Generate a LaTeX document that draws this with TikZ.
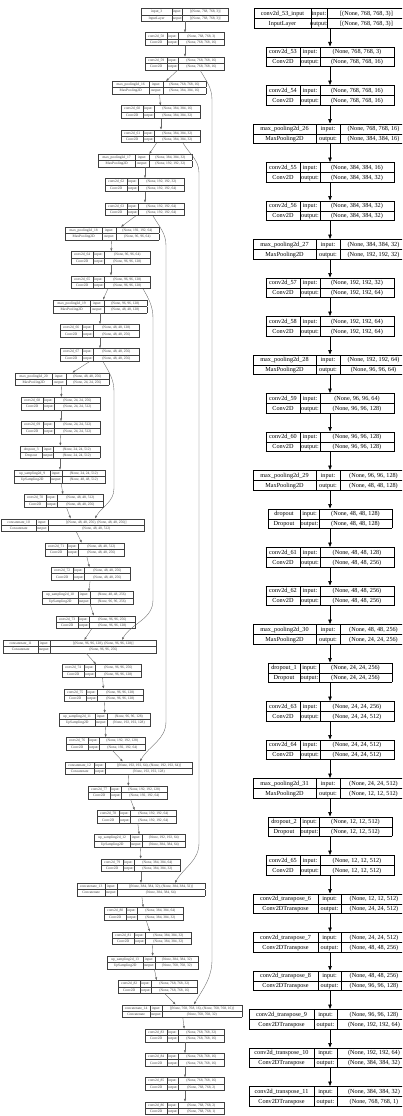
\documentclass[tikz,border=0pt]{standalone}
\usepackage{fontspec}
\setmainfont{Liberation Serif}
\usepackage{array}
\usetikzlibrary{arrows.meta}
\setlength{\tabcolsep}{0pt}

% column widths of each kind of box (name | input: | shape)
\def\kdrin{{56}{16}{78}}
\def\kdrconv{{34}{19}{74}}
\def\kdrpool{{62}{24}{66}}
\def\kdrdrop{{31}{19}{72}}
\def\kdrtr{{64}{23}{65}}
\def\kdrtrw{{64}{23}{73}}
\def\kdlin{{30}{10}{46}}
\def\kdlconv{{21}{11}{46}}
\def\kdlpool{{37}{13}{43}}
\def\kdldrop{{22}{11}{46}}
\def\kdlup{{35}{12}{43}}
\def\kdlcata{{34}{12}{96}}
\def\kdlcatb{{34}{12}{106}}
\def\kdlcatc{{28}{11}{87}}
\def\kdlcatd{{28}{11}{88}}
\def\kdlcate{{28}{11}{80}}

\newcommand{\tbl}[7]{%
  \begin{tabular}{|w{c}{#1pt}|w{c}{#2pt}|w{c}{#3pt}|}\hline
    #4 & input: & #6\\\hline
    #5 & output: & #7\\\hline
  \end{tabular}}
\newcommand{\lyr}[5]{\expandafter\expandafter\expandafter\tbl\csname kd#1\endcsname{#2}{#3}{#4}{#5}}

\tikzset{
  rlayer/.style={anchor=north, inner sep=0pt,
    font=\fontsize{6.2}{9.3}\selectfont\setlength{\arrayrulewidth}{0.5pt}},
  llayer/.style={anchor=north, inner sep=0pt, text=black!75,
    font=\fontsize{3.6}{6}\selectfont\setlength{\arrayrulewidth}{0.35pt}},
  redge/.style={line width=0.7pt, -{Triangle[length=4.5pt,width=3.5pt]}},
  ledge/.style={draw=black!60, line width=0.35pt, -{Triangle[length=2.6pt,width=2pt]}},
  skip/.style={ledge}
}

\begin{document}
\begin{tikzpicture}[x=1pt, y=-1pt]
    \fill[white] (0,0) rectangle (402,1116);
    \useasboundingbox (0,0) rectangle (402,1116);
    \clip (0,0) rectangle (402,1116);

    % Right model
    \foreach \kd/\nm/\ty/\ii/\oo [count=\i] in {
        rin/conv2d\_53\_input/InputLayer/{[(None, 768, 768, 3)]}/{[(None, 768, 768, 3)]},
        rconv/conv2d\_53/Conv2D/{(None, 768, 768, 3)}/{(None, 768, 768, 16)},
        rconv/conv2d\_54/Conv2D/{(None, 768, 768, 16)}/{(None, 768, 768, 16)},
        rpool/max\_pooling2d\_26/MaxPooling2D/{(None, 768, 768, 16)}/{(None, 384, 384, 16)},
        rconv/conv2d\_55/Conv2D/{(None, 384, 384, 16)}/{(None, 384, 384, 32)},
        rconv/conv2d\_56/Conv2D/{(None, 384, 384, 32)}/{(None, 384, 384, 32)},
        rpool/max\_pooling2d\_27/MaxPooling2D/{(None, 384, 384, 32)}/{(None, 192, 192, 32)},
        rconv/conv2d\_57/Conv2D/{(None, 192, 192, 32)}/{(None, 192, 192, 64)},
        rconv/conv2d\_58/Conv2D/{(None, 192, 192, 64)}/{(None, 192, 192, 64)},
        rpool/max\_pooling2d\_28/MaxPooling2D/{(None, 192, 192, 64)}/{(None, 96, 96, 64)},
        rconv/conv2d\_59/Conv2D/{(None, 96, 96, 64)}/{(None, 96, 96, 128)},
        rconv/conv2d\_60/Conv2D/{(None, 96, 96, 128)}/{(None, 96, 96, 128)},
        rpool/max\_pooling2d\_29/MaxPooling2D/{(None, 96, 96, 128)}/{(None, 48, 48, 128)},
        rdrop/dropout/Dropout/{(None, 48, 48, 128)}/{(None, 48, 48, 128)},
        rconv/conv2d\_61/Conv2D/{(None, 48, 48, 128)}/{(None, 48, 48, 256)},
        rconv/conv2d\_62/Conv2D/{(None, 48, 48, 256)}/{(None, 48, 48, 256)},
        rpool/max\_pooling2d\_30/MaxPooling2D/{(None, 48, 48, 256)}/{(None, 24, 24, 256)},
        rdrop/dropout\_1/Dropout/{(None, 24, 24, 256)}/{(None, 24, 24, 256)},
        rconv/conv2d\_63/Conv2D/{(None, 24, 24, 256)}/{(None, 24, 24, 512)},
        rconv/conv2d\_64/Conv2D/{(None, 24, 24, 512)}/{(None, 24, 24, 512)},
        rpool/max\_pooling2d\_31/MaxPooling2D/{(None, 24, 24, 512)}/{(None, 12, 12, 512)},
        rdrop/dropout\_2/Dropout/{(None, 12, 12, 512)}/{(None, 12, 12, 512)},
        rconv/conv2d\_65/Conv2D/{(None, 12, 12, 512)}/{(None, 12, 12, 512)},
        rtr/conv2d\_transpose\_6/Conv2DTranspose/{(None, 12, 12, 512)}/{(None, 24, 24, 512)},
        rtr/conv2d\_transpose\_7/Conv2DTranspose/{(None, 24, 24, 512)}/{(None, 48, 48, 256)},
        rtr/conv2d\_transpose\_8/Conv2DTranspose/{(None, 48, 48, 256)}/{(None, 96, 96, 128)},
        rtrw/conv2d\_transpose\_9/Conv2DTranspose/{(None, 96, 96, 128)}/{(None, 192, 192, 64)},
        rtrw/conv2d\_transpose\_10/Conv2DTranspose/{(None, 192, 192, 64)}/{(None, 384, 384, 32)},
        rtrw/conv2d\_transpose\_11/Conv2DTranspose/{(None, 384, 384, 32)}/{(None, 768, 768, 1)}
    } {
        \node[rlayer] (r\i) at (330, {8 + (\i-1)*38.5}) {\lyr{\kd}{\nm}{\ty}{\ii}{\oo}};
    }
    \foreach \i [evaluate=\i as \j using int(\i+1)] in {1,...,28} {
        \draw[redge] (r\i) -- (r\j);
    }

    % Left model (U-Net)
    \foreach \kd/\cx/\nm/\ty/\ii/\oo [count=\i from 0] in {
        lin/185/input\_3/InputLayer/{[(None, 768, 768, 3)]}/{[(None, 768, 768, 3)]},
        lconv/185/conv2d\_58/Conv2D/{(None, 768, 768, 3)}/{(None, 768, 768, 16)},
        lconv/185/conv2d\_59/Conv2D/{(None, 768, 768, 16)}/{(None, 768, 768, 16)},
        lpool/159/max\_pooling2d\_16/MaxPooling2D/{(None, 768, 768, 16)}/{(None, 384, 384, 16)},
        lconv/161/conv2d\_60/Conv2D/{(None, 384, 384, 16)}/{(None, 384, 384, 32)},
        lconv/161/conv2d\_61/Conv2D/{(None, 384, 384, 32)}/{(None, 384, 384, 32)},
        lpool/145/max\_pooling2d\_17/MaxPooling2D/{(None, 384, 384, 32)}/{(None, 192, 192, 32)},
        lconv/145/conv2d\_62/Conv2D/{(None, 192, 192, 32)}/{(None, 192, 192, 64)},
        lconv/145/conv2d\_63/Conv2D/{(None, 192, 192, 64)}/{(None, 192, 192, 64)},
        lpool/112/max\_pooling2d\_18/MaxPooling2D/{(None, 192, 192, 64)}/{(None, 96, 96, 64)},
        lconv/111/conv2d\_64/Conv2D/{(None, 96, 96, 64)}/{(None, 96, 96, 128)},
        lconv/111/conv2d\_65/Conv2D/{(None, 96, 96, 128)}/{(None, 96, 96, 128)},
        lpool/100/max\_pooling2d\_19/MaxPooling2D/{(None, 96, 96, 128)}/{(None, 48, 48, 128)},
        lconv/100/conv2d\_66/Conv2D/{(None, 48, 48, 128)}/{(None, 48, 48, 256)},
        lconv/100/conv2d\_67/Conv2D/{(None, 48, 48, 256)}/{(None, 48, 48, 256)},
        lpool/62/max\_pooling2d\_20/MaxPooling2D/{(None, 48, 48, 256)}/{(None, 24, 24, 256)},
        lconv/61/conv2d\_68/Conv2D/{(None, 24, 24, 256)}/{(None, 24, 24, 512)},
        lconv/61/conv2d\_69/Conv2D/{(None, 24, 24, 512)}/{(None, 24, 24, 512)},
        ldrop/60/dropout\_3/Dropout/{(None, 24, 24, 512)}/{(None, 24, 24, 512)},
        lup/60/up\_sampling2d\_9/UpSampling2D/{(None, 24, 24, 512)}/{(None, 48, 48, 512)},
        lconv/64/conv2d\_70/Conv2D/{(None, 48, 48, 512)}/{(None, 48, 48, 256)},
        lcata/73/concatenate\_10/Concatenate/{[(None, 48, 48, 256), (None, 48, 48, 256)]}/{(None, 48, 48, 512)},
        lconv/85/conv2d\_71/Conv2D/{(None, 48, 48, 512)}/{(None, 48, 48, 256)},
        lconv/91/conv2d\_72/Conv2D/{(None, 48, 48, 256)}/{(None, 48, 48, 256)},
        lup/88/up\_sampling2d\_10/UpSampling2D/{(None, 48, 48, 256)}/{(None, 96, 96, 256)},
        lconv/96/conv2d\_73/Conv2D/{(None, 96, 96, 256)}/{(None, 96, 96, 128)},
        lcatb/80/concatenate\_11/Concatenate/{[(None, 96, 96, 128), (None, 96, 96, 128)]}/{(None, 96, 96, 256)},
        lconv/102/conv2d\_74/Conv2D/{(None, 96, 96, 256)}/{(None, 96, 96, 128)},
        lconv/104/conv2d\_75/Conv2D/{(None, 96, 96, 128)}/{(None, 96, 96, 128)},
        lup/105/up\_sampling2d\_11/UpSampling2D/{(None, 96, 96, 128)}/{(None, 192, 192, 128)},
        lconv/106/conv2d\_76/Conv2D/{(None, 192, 192, 128)}/{(None, 192, 192, 64)},
        lcatc/129/concatenate\_12/Concatenate/{[(None, 192, 192, 64), (None, 192, 192, 64)]}/{(None, 192, 192, 128)},
        lconv/128/conv2d\_77/Conv2D/{(None, 192, 192, 128)}/{(None, 192, 192, 64)},
        lconv/137/conv2d\_78/Conv2D/{(None, 192, 192, 64)}/{(None, 192, 192, 64)},
        lup/140/up\_sampling2d\_12/UpSampling2D/{(None, 192, 192, 64)}/{(None, 384, 384, 64)},
        lconv/141/conv2d\_79/Conv2D/{(None, 384, 384, 64)}/{(None, 384, 384, 32)},
        lcatd/141/concatenate\_13/Concatenate/{[(None, 384, 384, 32), (None, 384, 384, 32)]}/{(None, 384, 384, 64)},
        lconv/144/conv2d\_80/Conv2D/{(None, 384, 384, 64)}/{(None, 384, 384, 32)},
        lconv/152/conv2d\_81/Conv2D/{(None, 384, 384, 32)}/{(None, 384, 384, 32)},
        lup/153/up\_sampling2d\_13/UpSampling2D/{(None, 384, 384, 32)}/{(None, 768, 768, 32)},
        lconv/158/conv2d\_82/Conv2D/{(None, 768, 768, 32)}/{(None, 768, 768, 16)},
        lcate/182/concatenate\_14/Concatenate/{[(None, 768, 768, 16), (None, 768, 768, 16)]}/{(None, 768, 768, 32)},
        lconv/185/conv2d\_83/Conv2D/{(None, 768, 768, 32)}/{(None, 768, 768, 16)},
        lconv/185/conv2d\_84/Conv2D/{(None, 768, 768, 16)}/{(None, 768, 768, 16)},
        lconv/185/conv2d\_85/Conv2D/{(None, 768, 768, 16)}/{(None, 768, 768, 2)},
        lconv/185/conv2d\_86/Conv2D/{(None, 768, 768, 2)}/{(None, 768, 768, 1)}
    } {
        \node[llayer] (l\i) at (\cx, {8 + \i*24.3}) {\lyr{\kd}{\nm}{\ty}{\ii}{\oo}};
    }
    \foreach \i [evaluate=\i as \j using int(\i+1)] in {0,...,44} {
        \draw[ledge] (l\i) -- (l\j);
    }

    % Skip connections
    \coordinate (lane0) at (212,0);
    \coordinate (lane1) at (199,0);
    \coordinate (lane2) at (166,0);
    \coordinate (lane3) at (153,0);
    \coordinate (lane4) at (114,0);
    \draw[skip] ([xshift=15pt]l2.south) to[out=-60,in=90] ([yshift=-30pt]l2.south -| lane0)
        -- ([yshift=45pt]l41.north -| lane0) to[out=-90,in=60] ([xshift=12pt]l41.north);
    \draw[skip] ([xshift=22pt]l5.south) to[out=-60,in=90] ([yshift=-30pt]l5.south -| lane1)
        -- ([yshift=40pt]l36.north -| lane1) to[out=-90,in=60] ([xshift=34pt]l36.north);
    \draw[skip] ([xshift=8pt]l8.south) to[out=-60,in=90] ([yshift=-30pt]l8.south -| lane2)
        -- ([yshift=40pt]l31.north -| lane2) to[out=-90,in=60] ([xshift=11pt]l31.north);
    \draw[skip] ([xshift=32pt]l11.south) to[out=-60,in=90] ([yshift=-30pt]l11.south -| lane3)
        -- ([yshift=40pt]l26.north -| lane3) to[out=-90,in=60] ([xshift=42pt]l26.north);
    \draw[skip] ([xshift=3pt]l14.south) to[out=-60,in=90] ([yshift=-30pt]l14.south -| lane4)
        -- ([yshift=30pt]l21.north -| lane4) to[out=-90,in=60] ([xshift=22pt]l21.north);

\end{tikzpicture}
\end{document}
